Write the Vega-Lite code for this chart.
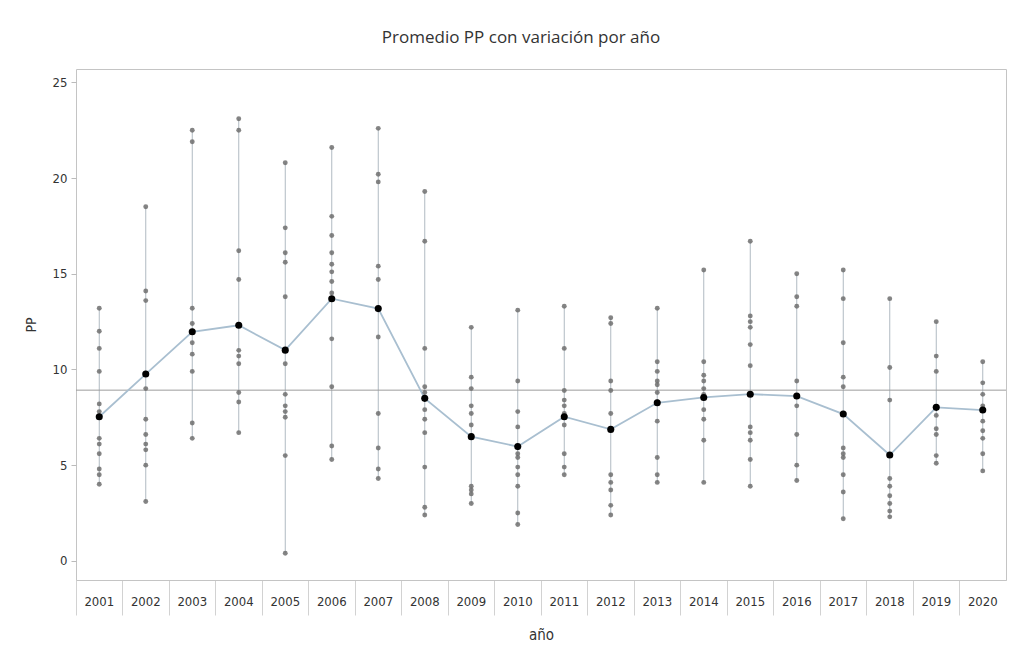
{
  "$schema": "https://vega.github.io/schema/vega-lite/v6.json",
  "width": 930,
  "height": 511,
  "autosize": {"type": "none"},
  "padding": {"left": 76, "top": 69, "right": 19, "bottom": 83},
  "background": "white",
  "title": {
    "text": "Promedio PP con variación por año",
    "fontSize": 17,
    "font": "Open Sans",
    "fontWeight": "normal",
    "color": "#333333",
    "anchor": "middle",
    "frame": "group",
    "dx": -20,
    "offset": 22
  },
  "datasets": {
    "obs": [
      {"año": "2001", "PP": 13.2}, {"año": "2001", "PP": 12.0}, {"año": "2001", "PP": 11.1}, {"año": "2001", "PP": 9.9}, {"año": "2001", "PP": 8.2}, {"año": "2001", "PP": 7.8}, {"año": "2001", "PP": 6.4}, {"año": "2001", "PP": 6.1}, {"año": "2001", "PP": 5.6}, {"año": "2001", "PP": 4.8}, {"año": "2001", "PP": 4.5}, {"año": "2001", "PP": 4.0},
      {"año": "2002", "PP": 18.5}, {"año": "2002", "PP": 14.1}, {"año": "2002", "PP": 13.6}, {"año": "2002", "PP": 9.8}, {"año": "2002", "PP": 9.0}, {"año": "2002", "PP": 7.4}, {"año": "2002", "PP": 6.6}, {"año": "2002", "PP": 6.1}, {"año": "2002", "PP": 5.8}, {"año": "2002", "PP": 5.0}, {"año": "2002", "PP": 3.1},
      {"año": "2003", "PP": 22.5}, {"año": "2003", "PP": 21.9}, {"año": "2003", "PP": 13.2}, {"año": "2003", "PP": 12.4}, {"año": "2003", "PP": 12.0}, {"año": "2003", "PP": 11.4}, {"año": "2003", "PP": 10.8}, {"año": "2003", "PP": 9.9}, {"año": "2003", "PP": 7.2}, {"año": "2003", "PP": 6.4},
      {"año": "2004", "PP": 23.1}, {"año": "2004", "PP": 22.5}, {"año": "2004", "PP": 16.2}, {"año": "2004", "PP": 14.7}, {"año": "2004", "PP": 12.3}, {"año": "2004", "PP": 11.0}, {"año": "2004", "PP": 10.7}, {"año": "2004", "PP": 10.3}, {"año": "2004", "PP": 8.8}, {"año": "2004", "PP": 8.3}, {"año": "2004", "PP": 6.7},
      {"año": "2005", "PP": 20.8}, {"año": "2005", "PP": 17.4}, {"año": "2005", "PP": 16.1}, {"año": "2005", "PP": 15.6}, {"año": "2005", "PP": 13.8}, {"año": "2005", "PP": 10.3}, {"año": "2005", "PP": 8.7}, {"año": "2005", "PP": 8.1}, {"año": "2005", "PP": 7.8}, {"año": "2005", "PP": 7.5}, {"año": "2005", "PP": 5.5}, {"año": "2005", "PP": 0.4},
      {"año": "2006", "PP": 21.6}, {"año": "2006", "PP": 18.0}, {"año": "2006", "PP": 17.0}, {"año": "2006", "PP": 16.1}, {"año": "2006", "PP": 15.5}, {"año": "2006", "PP": 15.1}, {"año": "2006", "PP": 14.6}, {"año": "2006", "PP": 14.0}, {"año": "2006", "PP": 11.6}, {"año": "2006", "PP": 9.1}, {"año": "2006", "PP": 6.0}, {"año": "2006", "PP": 5.3},
      {"año": "2007", "PP": 22.6}, {"año": "2007", "PP": 20.2}, {"año": "2007", "PP": 19.8}, {"año": "2007", "PP": 15.4}, {"año": "2007", "PP": 14.7}, {"año": "2007", "PP": 11.7}, {"año": "2007", "PP": 7.7}, {"año": "2007", "PP": 5.9}, {"año": "2007", "PP": 4.8}, {"año": "2007", "PP": 4.3},
      {"año": "2008", "PP": 19.3}, {"año": "2008", "PP": 16.7}, {"año": "2008", "PP": 11.1}, {"año": "2008", "PP": 9.1}, {"año": "2008", "PP": 8.8}, {"año": "2008", "PP": 7.9}, {"año": "2008", "PP": 7.4}, {"año": "2008", "PP": 6.7}, {"año": "2008", "PP": 4.9}, {"año": "2008", "PP": 2.8}, {"año": "2008", "PP": 2.4},
      {"año": "2009", "PP": 12.2}, {"año": "2009", "PP": 9.6}, {"año": "2009", "PP": 9.0}, {"año": "2009", "PP": 8.1}, {"año": "2009", "PP": 7.7}, {"año": "2009", "PP": 7.1}, {"año": "2009", "PP": 3.9}, {"año": "2009", "PP": 3.7}, {"año": "2009", "PP": 3.5}, {"año": "2009", "PP": 3.0},
      {"año": "2010", "PP": 13.1}, {"año": "2010", "PP": 9.4}, {"año": "2010", "PP": 7.8}, {"año": "2010", "PP": 7.0}, {"año": "2010", "PP": 5.6}, {"año": "2010", "PP": 5.4}, {"año": "2010", "PP": 4.9}, {"año": "2010", "PP": 4.5}, {"año": "2010", "PP": 3.9}, {"año": "2010", "PP": 2.5}, {"año": "2010", "PP": 1.9},
      {"año": "2011", "PP": 13.3}, {"año": "2011", "PP": 11.1}, {"año": "2011", "PP": 8.9}, {"año": "2011", "PP": 8.4}, {"año": "2011", "PP": 8.1}, {"año": "2011", "PP": 7.7}, {"año": "2011", "PP": 7.1}, {"año": "2011", "PP": 5.6}, {"año": "2011", "PP": 4.9}, {"año": "2011", "PP": 4.5},
      {"año": "2012", "PP": 12.7}, {"año": "2012", "PP": 12.4}, {"año": "2012", "PP": 9.4}, {"año": "2012", "PP": 8.9}, {"año": "2012", "PP": 7.7}, {"año": "2012", "PP": 4.5}, {"año": "2012", "PP": 4.1}, {"año": "2012", "PP": 3.7}, {"año": "2012", "PP": 2.9}, {"año": "2012", "PP": 2.4},
      {"año": "2013", "PP": 13.2}, {"año": "2013", "PP": 10.4}, {"año": "2013", "PP": 9.9}, {"año": "2013", "PP": 9.4}, {"año": "2013", "PP": 9.2}, {"año": "2013", "PP": 8.8}, {"año": "2013", "PP": 8.3}, {"año": "2013", "PP": 7.3}, {"año": "2013", "PP": 5.4}, {"año": "2013", "PP": 4.5}, {"año": "2013", "PP": 4.1},
      {"año": "2014", "PP": 15.2}, {"año": "2014", "PP": 10.4}, {"año": "2014", "PP": 9.7}, {"año": "2014", "PP": 9.4}, {"año": "2014", "PP": 9.0}, {"año": "2014", "PP": 8.7}, {"año": "2014", "PP": 7.9}, {"año": "2014", "PP": 7.4}, {"año": "2014", "PP": 6.3}, {"año": "2014", "PP": 4.1},
      {"año": "2015", "PP": 16.7}, {"año": "2015", "PP": 12.8}, {"año": "2015", "PP": 12.5}, {"año": "2015", "PP": 12.2}, {"año": "2015", "PP": 11.3}, {"año": "2015", "PP": 10.2}, {"año": "2015", "PP": 7.0}, {"año": "2015", "PP": 6.7}, {"año": "2015", "PP": 6.3}, {"año": "2015", "PP": 5.3}, {"año": "2015", "PP": 3.9},
      {"año": "2016", "PP": 15.0}, {"año": "2016", "PP": 13.8}, {"año": "2016", "PP": 13.3}, {"año": "2016", "PP": 9.4}, {"año": "2016", "PP": 8.6}, {"año": "2016", "PP": 8.1}, {"año": "2016", "PP": 6.6}, {"año": "2016", "PP": 5.0}, {"año": "2016", "PP": 4.2},
      {"año": "2017", "PP": 15.2}, {"año": "2017", "PP": 13.7}, {"año": "2017", "PP": 11.4}, {"año": "2017", "PP": 9.6}, {"año": "2017", "PP": 9.1}, {"año": "2017", "PP": 5.9}, {"año": "2017", "PP": 5.6}, {"año": "2017", "PP": 5.4}, {"año": "2017", "PP": 4.5}, {"año": "2017", "PP": 3.6}, {"año": "2017", "PP": 2.2},
      {"año": "2018", "PP": 13.7}, {"año": "2018", "PP": 10.1}, {"año": "2018", "PP": 8.4}, {"año": "2018", "PP": 4.3}, {"año": "2018", "PP": 3.9}, {"año": "2018", "PP": 3.4}, {"año": "2018", "PP": 3.0}, {"año": "2018", "PP": 2.6}, {"año": "2018", "PP": 2.3},
      {"año": "2019", "PP": 12.5}, {"año": "2019", "PP": 10.7}, {"año": "2019", "PP": 9.9}, {"año": "2019", "PP": 8.0}, {"año": "2019", "PP": 7.6}, {"año": "2019", "PP": 6.9}, {"año": "2019", "PP": 6.6}, {"año": "2019", "PP": 5.5}, {"año": "2019", "PP": 5.1},
      {"año": "2020", "PP": 10.4}, {"año": "2020", "PP": 9.3}, {"año": "2020", "PP": 8.7}, {"año": "2020", "PP": 8.1}, {"año": "2020", "PP": 7.3}, {"año": "2020", "PP": 6.8}, {"año": "2020", "PP": 6.4}, {"año": "2020", "PP": 5.6}, {"año": "2020", "PP": 4.7}
    ],
    "means": [
      {"año": "2001", "media": 7.53}, {"año": "2002", "media": 9.76}, {"año": "2003", "media": 11.97}, {"año": "2004", "media": 12.31},
      {"año": "2005", "media": 11.01}, {"año": "2006", "media": 13.70}, {"año": "2007", "media": 13.18}, {"año": "2008", "media": 8.49},
      {"año": "2009", "media": 6.49}, {"año": "2010", "media": 5.97}, {"año": "2011", "media": 7.53}, {"año": "2012", "media": 6.87},
      {"año": "2013", "media": 8.26}, {"año": "2014", "media": 8.54}, {"año": "2015", "media": 8.71}, {"año": "2016", "media": 8.61},
      {"año": "2017", "media": 7.67}, {"año": "2018", "media": 5.53}, {"año": "2019", "media": 8.02}, {"año": "2020", "media": 7.88}
    ],
    "ref": [{"PP": 8.92}]
  },
  "config": {
    "view": {"stroke": "#c4c4c4", "strokeWidth": 1},
    "axis": {
      "labelFont": "Liberation Sans Narrow, DejaVu Sans Condensed, Liberation Sans, sans-serif",
      "titleFont": "Liberation Sans Narrow, DejaVu Sans Condensed, Liberation Sans, sans-serif",
      "labelColor": "#333333",
      "titleColor": "#333333",
      "titleFontWeight": "normal",
      "grid": false
    }
  },
  "layer": [
    {
      "data": {"name": "obs"},
      "mark": {"type": "rule", "color": "#b0bac2", "strokeWidth": 1},
      "encoding": {
        "x": {
          "field": "año", "type": "nominal",
          "scale": {"paddingInner": 0, "paddingOuter": 0},
          "axis": {
            "title": "año", "titleFontSize": 15, "titlePadding": 12,
            "labelAngle": 0, "labelFontSize": 13, "labelPadding": -20,
            "bandPosition": 0,
            "tickSize": 35, "tickColor": "#d2d2d2",
            "domainColor": "#c4c4c4"
          }
        },
        "y": {
          "aggregate": "min", "field": "PP", "type": "quantitative",
          "scale": {"domain": [-1, 25.7], "nice": false, "zero": false},
          "axis": {
            "title": "PP", "titleFontSize": 14, "titlePadding": 14,
            "values": [0, 5, 10, 15, 20, 25], "labelFontSize": 13,
            "tickSize": 5, "tickColor": "#bbbbbb", "domain": false, "labelPadding": 4
          }
        },
        "y2": {"aggregate": "max", "field": "PP"}
      }
    },
    {
      "data": {"name": "ref"},
      "mark": {"type": "rule", "color": "#9c9c9c", "strokeWidth": 1},
      "encoding": {"y": {"field": "PP", "type": "quantitative"}}
    },
    {
      "data": {"name": "means"},
      "mark": {"type": "line", "color": "#a9bfd0", "strokeWidth": 1.8},
      "encoding": {
        "x": {"field": "año", "type": "nominal"},
        "y": {"field": "media", "type": "quantitative"}
      }
    },
    {
      "data": {"name": "obs"},
      "mark": {"type": "point", "shape": "circle", "filled": true, "color": "#6e6e6e", "size": 24, "opacity": 0.85},
      "encoding": {
        "x": {"field": "año", "type": "nominal"},
        "y": {"field": "PP", "type": "quantitative"}
      }
    },
    {
      "data": {"name": "means"},
      "mark": {"type": "point", "shape": "circle", "filled": true, "color": "#000000", "size": 50, "opacity": 1},
      "encoding": {
        "x": {"field": "año", "type": "nominal"},
        "y": {"field": "media", "type": "quantitative"}
      }
    }
  ]
}
